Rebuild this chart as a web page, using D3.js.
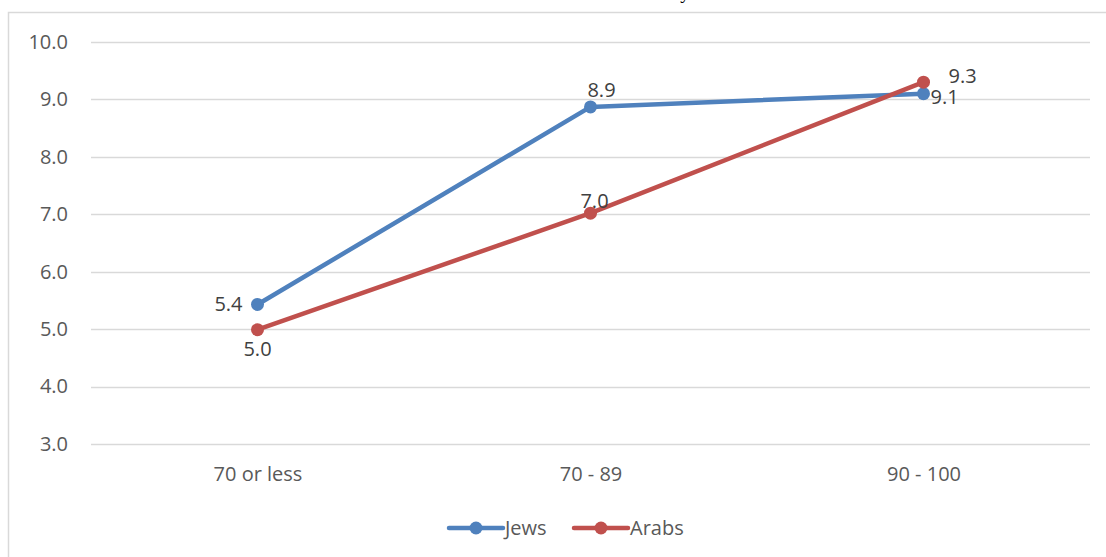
<!DOCTYPE html>
<html>
<head>
<meta charset="utf-8">
<script src="https://cdn.jsdelivr.net/npm/d3@7/dist/d3.min.js"></script>
<style>
  html, body { margin: 0; padding: 0; background: #fff; }
  svg { display: block; }
  text { font-family: "Open Sans", "Noto Sans", sans-serif; fill: #404040; }
</style>
</head>
<body>
<svg id="chart" width="1106" height="557"></svg>
<script>
const categories = ["70 or less", "70 - 89", "90 - 100"];
const jews = [5.43, 8.87, 9.10];
const arabs = [4.99, 7.02, 9.30];
const seriesNames = ["Jews", "Arabs"];
const yTicks = [3, 4, 5, 6, 7, 8, 9, 10];

const colors = { Jews: "#4F81BD", Arabs: "#C0504D" };
const W = 1106, H = 557;
const margin = { left: 91, right: 16, top: 42, bottom: 113 };
const FS = "20px";

const svg = d3.select("#chart");

// frame
svg.append("path")
  .attr("d", `M8.5,${H} L8.5,12.5 L${W},12.5`)
  .attr("fill", "none").attr("stroke", "#d9d9d9").attr("stroke-width", 1.5);

// clipped title remnant
svg.append("text")
  .attr("x", 685).attr("y", -1)
  .attr("text-anchor", "middle")
  .style("font-family", "'Liberation Serif', serif")
  .style("font-size", "19px").style("fill", "#000")
  .text("y");

const x = d3.scalePoint().domain(categories).range([margin.left, W - margin.right]).padding(0.5);
const y = d3.scaleLinear().domain([3, 10]).range([444, 42]);

// gridlines
svg.append("g").selectAll("line").data(yTicks).join("line")
  .attr("x1", margin.left).attr("x2", W - margin.right)
  .attr("y1", d => Math.round(y(d)) + 0.5).attr("y2", d => Math.round(y(d)) + 0.5)
  .attr("stroke", "#d9d9d9").attr("stroke-width", 1.3);

// y axis labels
const yAxis = d3.axisLeft(y).tickValues(yTicks).tickFormat(d3.format(".1f")).tickSize(0).tickPadding(0);
const gy = svg.append("g").attr("transform", "translate(68,0)").call(yAxis);
gy.select(".domain").remove();
gy.selectAll("text").style("font-size", FS).style("fill", "#595959")
  .style("font-family", "'Open Sans', sans-serif");

// x axis labels
const xAxis = d3.axisBottom(x).tickSize(0).tickPadding(0);
const gx = svg.append("g").attr("transform", "translate(0,467)").call(xAxis);
gx.select(".domain").remove();
gx.selectAll("text").style("font-size", FS).style("fill", "#595959")
  .style("font-family", "'Open Sans', sans-serif");

const line = d3.line().x((d, i) => x(categories[i])).y(d => y(d));

const data = [
  { name: "Jews", values: jews, labelPos: [[-15, 0, "end"], [11, -17, "middle"], [7, 3, "start"]] },
  { name: "Arabs", values: arabs, labelPos: [[0, 19, "middle"], [4, -12, "middle"], [25, -6, "start"]] }
];

data.forEach(s => {
  svg.append("path").datum(s.values)
    .attr("d", line).attr("fill", "none")
    .attr("stroke", colors[s.name]).attr("stroke-width", 4.5)
    .attr("stroke-linejoin", "round").attr("stroke-linecap", "round");
  svg.append("g").selectAll("circle").data(s.values).join("circle")
    .attr("cx", (d, i) => x(categories[i])).attr("cy", d => y(d))
    .attr("r", 6.5).attr("fill", colors[s.name]);
});

data.forEach(s => {
  svg.append("g").selectAll("text").data(s.values).join("text")
    .attr("x", (d, i) => x(categories[i]) + s.labelPos[i][0])
    .attr("y", (d, i) => y(d) + s.labelPos[i][1])
    .attr("dy", "0.35em")
    .attr("text-anchor", (d, i) => s.labelPos[i][2])
    .style("font-size", FS).style("fill", "#404040")
    .text(d => d3.format(".1f")(d));
});

// legend
const legend = svg.append("g");
const legendItems = [
  { name: "Jews", x0: 449 },
  { name: "Arabs", x0: 574 }
];
legendItems.forEach(it => {
  const c = colors[it.name];
  legend.append("line").attr("x1", it.x0).attr("x2", it.x0 + 54)
    .attr("y1", 528).attr("y2", 528)
    .attr("stroke", c).attr("stroke-width", 4.5).attr("stroke-linecap", "round");
  legend.append("circle").attr("cx", it.x0 + 27).attr("cy", 528).attr("r", 6.5).attr("fill", c);
  legend.append("text").attr("x", it.x0 + 56).attr("y", 528).attr("dy", "0.35em")
    .style("font-size", FS).style("fill", "#595959")
    .text(it.name);
});
</script>
</body>
</html>
